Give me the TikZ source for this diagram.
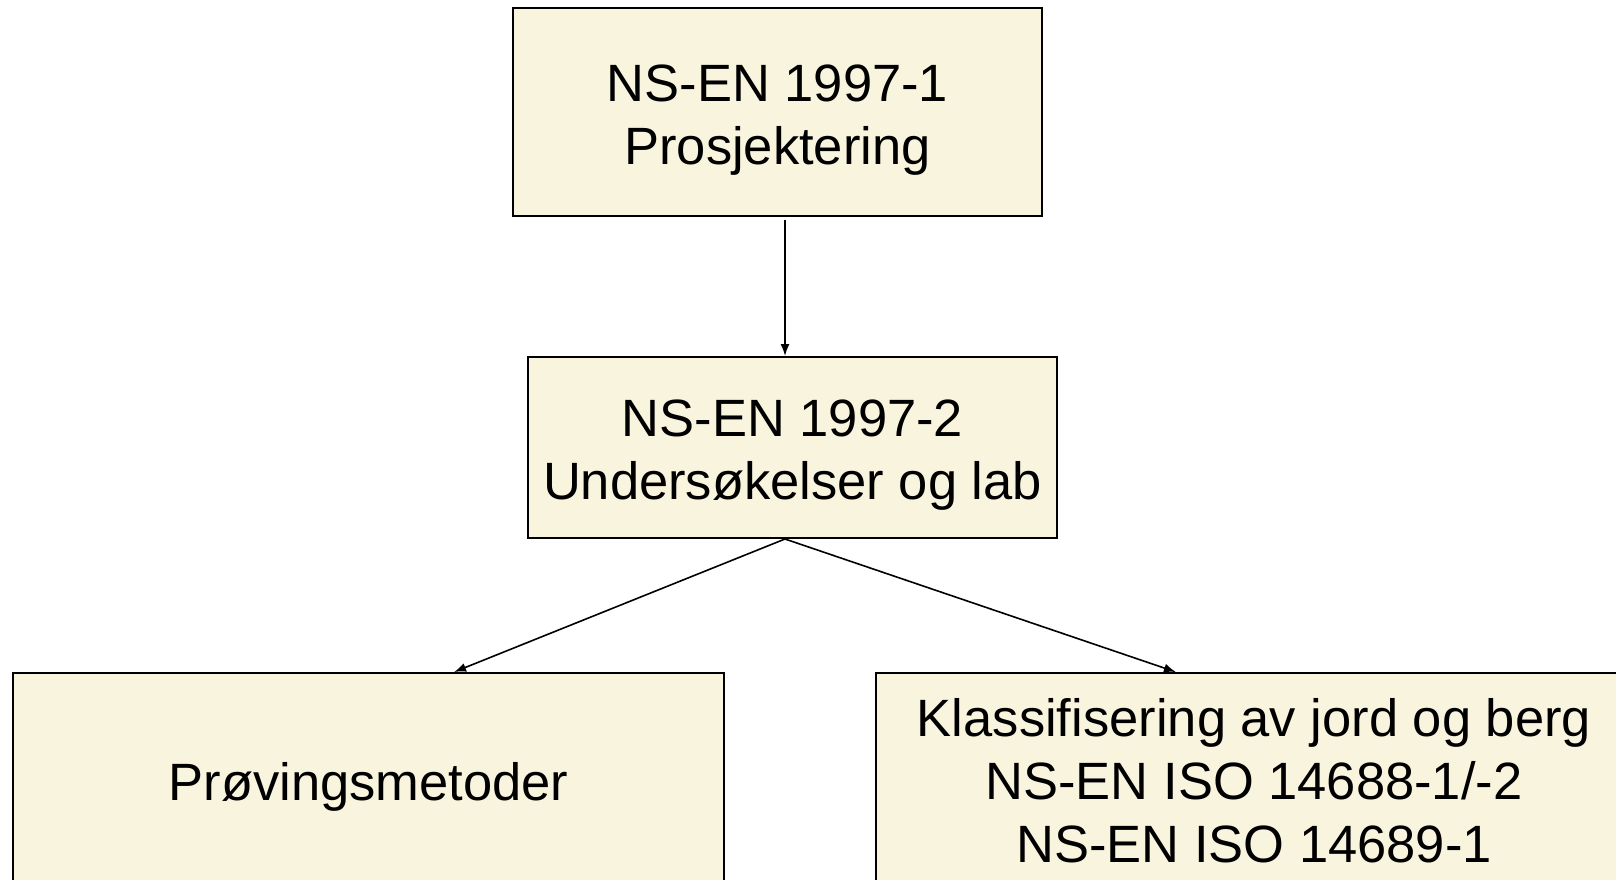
\documentclass[tikz,border=0pt]{standalone}
\usepackage{fontspec}
\setmainfont{Liberation Sans}
\usetikzlibrary{arrows.meta, calc}
\definecolor{boxfill}{RGB}{249,244,222}
\newcommand{\opp}[1]{\rule{0pt}{#1}}

\begin{document}
\begin{tikzpicture}[x=1pt, y=-1pt,
    box/.style={draw, line width=2pt, fill=boxfill, align=center, inner sep=0pt,
        font=\fontsize{52.5}{63}\selectfont},
    pil/.style={-{Latex[length=12pt, width=9pt]}, line width=1.6pt}]
    \clip (0,0) rectangle (1616,880);
    \node[box, minimum width=529pt, minimum height=208pt] (top) at (777.5,112) {\opp{52pt}NS-EN 1997-1\\Prosjektering};
    \node[box, minimum width=529pt, minimum height=181pt] (mid) at (792.5,447.5) {\opp{51pt}NS-EN 1997-2\\Undersøkelser og lab};
    \node[box, minimum width=711pt, minimum height=216pt] (prov) at (368.5,781) {\opp{49pt}Prøvingsmetoder};
    \node[box, minimum width=756pt, minimum height=216pt] (klass) at (1254,781) {Klassifisering av jord og berg\\NS-EN ISO 14688-1/-2\\NS-EN ISO 14689-1};
    \draw[pil] ([xshift=7.5pt, yshift=-3pt]top.south) -- ([xshift=-7.5pt]mid.north);
    \draw[pil] ([xshift=-7.5pt]mid.south) -- ($(prov.north west)!0.62!(prov.north east)$);
    \draw[pil] ([xshift=-7.5pt]mid.south) -- ($(klass.north west)!0.397!(klass.north east)$);
\end{tikzpicture}
\end{document}
